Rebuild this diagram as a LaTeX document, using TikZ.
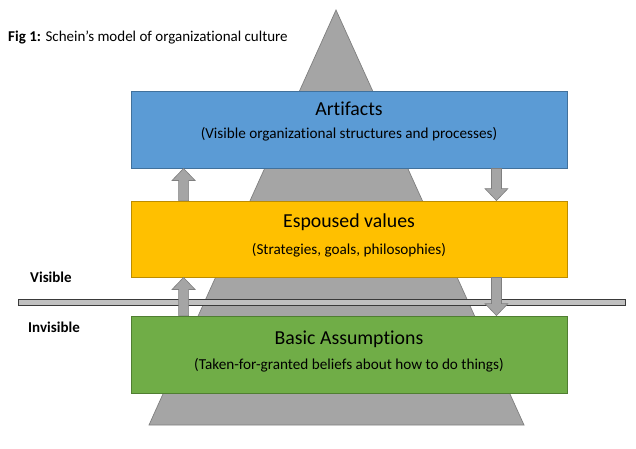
\documentclass[tikz,border=0pt]{standalone}
\usepackage{fontspec}
\setmainfont{Carlito}[Ligatures=NoCommon]
\usetikzlibrary{calc}
\definecolor{artblue}{HTML}{5B9BD5}
\definecolor{artedge}{HTML}{41719C}
\definecolor{espyellow}{HTML}{FFC000}
\definecolor{espedge}{HTML}{BC8C00}
\definecolor{basgreen}{HTML}{70AD47}
\definecolor{basedge}{HTML}{507E32}
\definecolor{pyrgray}{HTML}{A5A5A5}
\definecolor{pyredge}{HTML}{7F7F7F}
\definecolor{barfill}{HTML}{C0C0C0}
\definecolor{baredge}{HTML}{3A3A3A}
\tikzset{
  layerbox/.style={rectangle, line width=0.9pt, minimum width=436pt, inner sep=0pt},
  headtext/.style={font=\fontsize{19.8}{23}\selectfont, inner sep=0pt},
  subtext/.style={font=\fontsize{15.2}{18}\selectfont, inner sep=0pt},
  sidetext/.style={font=\fontsize{15}{18}\selectfont\bfseries, anchor=west, inner sep=0pt},
  blockarrow/.style={draw=pyredge, fill=pyrgray, line width=0.6pt, line join=miter,
    to path={let \p1=(\tikztostart), \p2=(\tikztotarget), \n1={sign(\y2-\y1)} in
      ({\x1-5pt},\y1) -- ({\x1-5pt},{\y2-\n1*12pt}) -- ({\x1-11.5pt},{\y2-\n1*12pt})
      -- (\x1,\y2) -- ({\x1+11.5pt},{\y2-\n1*12pt}) -- ({\x1+5pt},{\y2-\n1*12pt})
      -- ({\x1+5pt},\y1) -- cycle}},
}
\begin{document}
\begin{tikzpicture}[x=1pt,y=-1pt]
\useasboundingbox (0,0) rectangle (636,448);
\fill[white] (0,0) rectangle (636,448);
% pyramid
\draw[fill=pyrgray, draw=pyredge, line width=0.7pt, line join=miter] (336,10) -- (524,425) -- (149,425) -- cycle;
% title
\node[anchor=west, font=\fontsize{15}{18}\selectfont, inner sep=0pt] (title) at (8,37) {\textbf{Fig 1:} Schein’s model of organizational culture};
% layer boxes
\node[layerbox, fill=artblue, draw=artedge, minimum height=77pt] (art) at (349,129.5) {};
\node[layerbox, fill=espyellow, draw=espedge, minimum height=76pt] (esp) at (349,239) {};
\node[layerbox, fill=basgreen, draw=basedge, minimum height=77pt] (bas) at (349,354.5) {};
% texts
\node[headtext] (arthead) at (349,108.5) {Artifacts};
\node[subtext] (artsub) at (349,134.5) {(Visible organizational structures and processes)};
\node[headtext] (esphead) at (349,222.5) {Espoused values};
\node[subtext] (espsub) at (349,250) {(Strategies, goals, philosophies)};
\node[headtext] (bashead) at (349,339) {Basic Assumptions};
\node[subtext] (bassub) at (349,365) {(Taken-for-granted beliefs about how to do things)};
% visible / invisible line
\draw[fill=barfill, draw=baredge, line width=0.8pt] (18,299) rectangle (625,305);
\node[sidetext] (vis) at (30,277) {Visible};
\node[sidetext] (invis) at (28,327) {Invisible};
% arrows
\coordinate (a1s) at ([xshift=53pt]esp.north west);
\coordinate (a1e) at ([xshift=53pt]art.south west);
\coordinate (a2s) at ([xshift=-71pt]art.south east);
\coordinate (a2e) at ([xshift=-71pt]esp.north east);
\coordinate (a3s) at ([xshift=53pt]bas.north west);
\coordinate (a3e) at ([xshift=53pt]esp.south west);
\coordinate (a4s) at ([xshift=-71pt]esp.south east);
\coordinate (a4e) at ([xshift=-71pt]bas.north east);
\draw[blockarrow] (a1s) to (a1e);
\draw[blockarrow] (a2s) to (a2e);
\draw[blockarrow] (a3s) to (a3e);
\draw[blockarrow] (a4s) to (a4e);
\end{tikzpicture}
\end{document}
